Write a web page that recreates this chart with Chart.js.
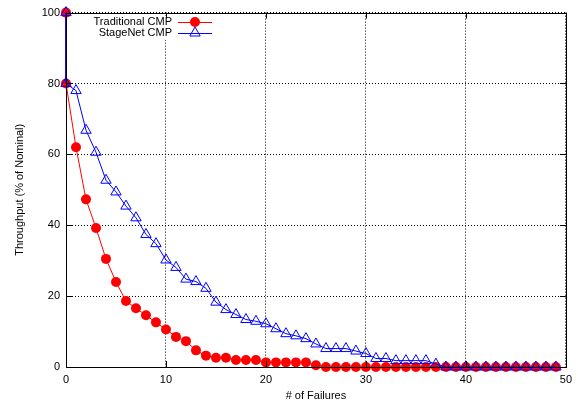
<!DOCTYPE html>
<html>
<head>
<meta charset="utf-8">
<script src="https://cdn.jsdelivr.net/npm/chart.js@4.4.1/dist/chart.umd.min.js"></script>
<style>
    html, body { margin: 0; padding: 0; background: #fff; }
    #wrap { width: 578px; height: 404px; }
</style>
</head>
<body>
<div id="wrap"><canvas id="line-chart" width="578" height="404"></canvas></div>
<script>
var failures = [0, 0, 1, 2, 3, 4, 5, 6, 7, 8, 9, 10, 11, 12, 13, 14, 15, 16, 17, 18, 19, 20,
    21, 22, 23, 24, 25, 26, 27, 28, 29, 30, 31, 32, 33, 34, 35, 36, 37, 38, 39, 40,
    41, 42, 43, 44, 45, 46, 47, 48, 49]
var traditional = [100, 80, 62, 47.3, 39.2, 30.5, 24, 18.6, 16.6, 14.6, 12.6, 10.6, 8.5, 7.3, 4.7, 3.2,
    2.6, 2.6, 2.0, 2.0, 2.0, 1.3, 1.3, 1.3, 1.3, 1.3, 0.5, 0, 0, 0, 0, 0, 0, 0, 0, 0, 0, 0, 0, 0, 0,
    0, 0, 0, 0, 0, 0, 0, 0, 0, 0]
var stagenet = [100, 80, 78, 66.8, 60.6, 52.7, 49.4, 45.4, 42.1, 37.4, 34.8, 30.2, 28.1, 24.8, 24.1, 22.2,
    18.3, 16.2, 14.8, 13.4, 12.9, 12.2, 10.8, 9.4, 8.8, 8.0, 6.5, 5.2, 5.2, 5.2, 4.5, 3.8, 2.4, 2.4,
    1.8, 1.8, 1.8, 1.8, 0.8, 0, 0, 0, 0, 0, 0, 0, 0, 0, 0, 0, 0]
var seriesNames = ["Traditional CMP", "StageNet CMP"]
var xTicks = [0, 10, 20, 30, 40, 50]
var yTicks = [0, 20, 40, 60, 80, 100]

var FONT = "'Liberation Sans', Arial, sans-serif"

function toPoints(xs, ys) {
    var pts = []
    for (var i = 0; i < xs.length; i++) {
        pts.push({x: xs[i], y: ys[i]})
    }
    return pts
}

// gnuplot style frame: solid border, inward ticks on all sides, key in the top left
var framePlugin = {
    id: 'frame',
    afterDatasetsDraw: function(chart) {
        var ctx = chart.ctx
        var a = chart.chartArea
        var sx = chart.scales.x
        var sy = chart.scales.y
        ctx.save()
        ctx.setLineDash([])

        // key background hides the grid behind it
        ctx.fillStyle = '#fff'
        ctx.fillRect(90, 16, 126, 24)

        ctx.strokeStyle = '#000'
        ctx.lineWidth = 1
        ctx.beginPath()
        for (var i = 0; i < xTicks.length; i++) {
            var px = Math.round(sx.getPixelForValue(xTicks[i])) + 0.5
            ctx.moveTo(px, a.bottom); ctx.lineTo(px, a.bottom - 6)
            ctx.moveTo(px, a.top); ctx.lineTo(px, a.top + 6)
        }
        for (var j = 0; j < yTicks.length; j++) {
            var py = Math.round(sy.getPixelForValue(yTicks[j])) + 0.5
            ctx.moveTo(a.left, py); ctx.lineTo(a.left + 6, py)
            ctx.moveTo(a.right, py); ctx.lineTo(a.right - 6, py)
        }
        ctx.stroke()
        ctx.strokeRect(Math.round(a.left) + 0.5, Math.round(a.top) + 0.5,
            Math.round(a.right - a.left), Math.round(a.bottom - a.top))

        // key
        ctx.font = '11px ' + FONT
        ctx.textAlign = 'right'
        ctx.textBaseline = 'middle'
        var rows = [22, 33]
        var colors = ['#ff0000', '#0000ff']
        for (var k = 0; k < 2; k++) {
            var y = rows[k]
            ctx.fillStyle = '#000'
            ctx.fillText(seriesNames[k], 172, y)
            ctx.strokeStyle = colors[k]
            ctx.beginPath()
            ctx.moveTo(178, y + 0.5); ctx.lineTo(212, y + 0.5)
            ctx.stroke()
            if (k == 0) {
                ctx.fillStyle = colors[k]
                ctx.beginPath()
                ctx.arc(195, y, 5, 0, Math.PI * 2)
                ctx.fill()
            } else {
                ctx.fillStyle = 'rgba(0,0,0,0)'
                Chart.helpers.drawPoint(ctx, {pointStyle: 'triangle', radius: 6, borderWidth: 1, rotation: 0}, 195, y)
            }
        }
        ctx.restore()
    }
}

new Chart(document.getElementById("line-chart"), {
    type: 'line',
    data: {
        datasets: [{
            label: seriesNames[0],
            data: toPoints(failures, traditional),
            borderColor: '#ff0000',
            backgroundColor: '#ff0000',
            borderWidth: 1,
            pointStyle: 'circle',
            pointRadius: 5,
            pointBorderWidth: 0,
            pointBackgroundColor: '#ff0000',
            fill: false,
            clip: false,
            order: 2
        },
            {
                label: seriesNames[1],
                data: toPoints(failures, stagenet),
                borderColor: '#0000ff',
                backgroundColor: 'rgba(0,0,0,0)',
                borderWidth: 1,
                pointStyle: 'triangle',
                pointRadius: 6,
                pointBorderWidth: 1,
                pointBorderColor: '#0000ff',
                pointBackgroundColor: 'rgba(0,0,0,0)',
                fill: false,
                clip: false,
                order: 1
            }
        ]
    },
    options: {
        responsive: false,
        animation: false,
        layout: {padding: {top: 10, right: 12, left: 0, bottom: 0}},
        plugins: {
            legend: {display: false},
            tooltip: {enabled: false}
        },
        scales: {
            x: {
                type: 'linear',
                min: 0,
                max: 50,
                afterFit: function(s) { s.height = 37 },
                afterBuildTicks: function(s) { s.ticks = xTicks.map(function(v) { return {value: v} }) },
                border: {display: false, dash: [1, 2]},
                grid: {color: '#000', lineWidth: 1, drawTicks: false},
                ticks: {padding: 6, color: '#000', font: {family: FONT, size: 11}, maxRotation: 0},
                title: {display: true, text: '# of Failures', color: '#000',
                    font: {family: FONT, size: 11}, padding: {top: 0, bottom: 1}}
            },
            y: {
                min: 0,
                max: 100,
                afterFit: function(s) { s.width = 66 },
                afterBuildTicks: function(s) { s.ticks = yTicks.map(function(v) { return {value: v} }) },
                border: {display: false, dash: [1, 2]},
                grid: {color: '#000', lineWidth: 1, drawTicks: false},
                ticks: {padding: 6, color: '#000', font: {family: FONT, size: 11}},
                title: {display: true, text: 'Throughput (% of Nominal)', color: '#000',
                    font: {family: FONT, size: 11}, padding: {top: 13, bottom: 0}}
            }
        }
    },
    plugins: [framePlugin]
});
</script>
</body>
</html>
